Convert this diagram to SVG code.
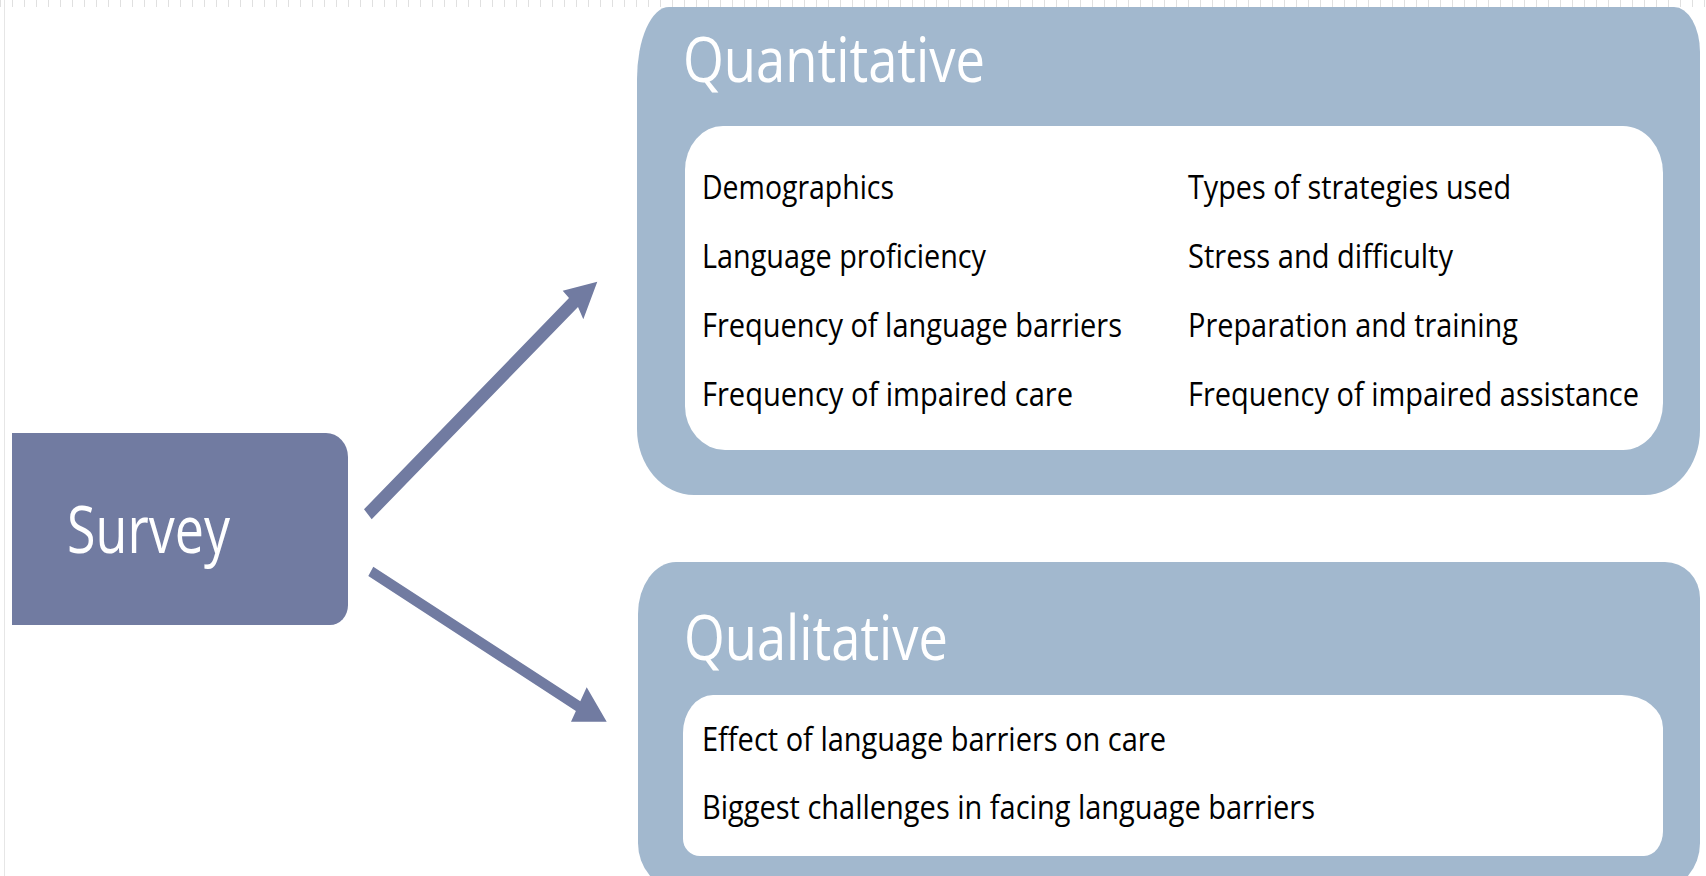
<svg xmlns="http://www.w3.org/2000/svg" width="1706" height="876" viewBox="0 0 1706 876">
  <style>
    .outer { fill: #A2B8CE; }
    .inner { fill: #FFFFFF; }
    .dark { fill: #717BA1; }
    .title { font-family: "Open Sans", "Liberation Sans", sans-serif; font-size: 63px; fill: #FFFFFF; }
    .item { font-family: "Open Sans", "Liberation Sans", sans-serif; font-size: 32px; fill: #000000; }
    .survey { font-family: "Open Sans", "Liberation Sans", sans-serif; font-size: 66px; fill: #FFFFFF; }
  </style>
  <rect x="0" y="0" width="1706" height="876" fill="#FFFFFF"/>
  <line x1="0" y1="3.5" x2="1706" y2="3.5" stroke="#E0E0E0" stroke-width="7" stroke-dasharray="1 11"/>
  <line x1="4.5" y1="0" x2="4.5" y2="876" stroke="#E6E6E6" stroke-width="1"/>

  <g id="quantitative">
    <path class="outer" d="M 669 7 H 1674 A 26 45 0 0 1 1700 52 V 430 A 55 65 0 0 1 1645 495 H 694 A 57 66 0 0 1 637 429 V 79 A 32 72 0 0 1 669 7 Z"/>
    <path class="inner" d="M 723 126 H 1623 A 40 47 0 0 1 1663 173 V 403 A 40 47 0 0 1 1623 450 H 725 A 40 44 0 0 1 685 406 V 170 A 38 44 0 0 1 723 126 Z"/>
    <text class="title" x="683" y="82" textLength="302" lengthAdjust="spacingAndGlyphs">Quantitative</text>
    <text class="item" x="702" y="199" textLength="192" lengthAdjust="spacingAndGlyphs">Demographics</text>
    <text class="item" x="702" y="268" textLength="284" lengthAdjust="spacingAndGlyphs">Language proficiency</text>
    <text class="item" x="702" y="337" textLength="420" lengthAdjust="spacingAndGlyphs">Frequency of language barriers</text>
    <text class="item" x="702" y="406" textLength="371" lengthAdjust="spacingAndGlyphs">Frequency of impaired care</text>
    <text class="item" x="1188" y="199" textLength="323" lengthAdjust="spacingAndGlyphs">Types of strategies used</text>
    <text class="item" x="1188" y="268" textLength="265" lengthAdjust="spacingAndGlyphs">Stress and difficulty</text>
    <text class="item" x="1188" y="337" textLength="330" lengthAdjust="spacingAndGlyphs">Preparation and training</text>
    <text class="item" x="1188" y="406" textLength="451" lengthAdjust="spacingAndGlyphs">Frequency of impaired assistance</text>
  </g>

  <g id="qualitative">
    <path class="outer" d="M 676 562 H 1665 A 35 36 0 0 1 1700 598 V 843 A 40 46 0 0 1 1660 889 H 678 A 40 46 0 0 1 638 843 V 614 A 38 52 0 0 1 676 562 Z"/>
    <path class="inner" d="M 713 695 H 1622 A 41 33 0 0 1 1663 728 V 831 A 19 25 0 0 1 1644 856 H 700 A 17 17 0 0 1 683 839 V 733 A 30 38 0 0 1 713 695 Z"/>
    <text class="title" x="684" y="660" textLength="264" lengthAdjust="spacingAndGlyphs">Qualitative</text>
    <text class="item" x="702" y="751" textLength="464" lengthAdjust="spacingAndGlyphs">Effect of language barriers on care</text>
    <text class="item" x="702" y="819" textLength="613" lengthAdjust="spacingAndGlyphs">Biggest challenges in facing language barriers</text>
  </g>

  <g id="survey">
    <path class="dark" d="M 12 433 H 326 A 22 24 0 0 1 348 457 V 605 A 18 20 0 0 1 330 625 H 12 Z"/>
    <text class="survey" x="67" y="553" textLength="163" lengthAdjust="spacingAndGlyphs">Survey</text>
  </g>

  <g id="connectors">
    <polygon class="dark" points="364,509.3 569,298.1 562.7,290.7 597.3,281.7 583.3,319.3 578,306.9 371.7,519.3"/>
    <polygon class="dark" points="373.3,566.7 580.3,701.3 586.7,687.3 606.7,721.7 571,721.7 575.9,711 368.3,576"/>
  </g>
</svg>
